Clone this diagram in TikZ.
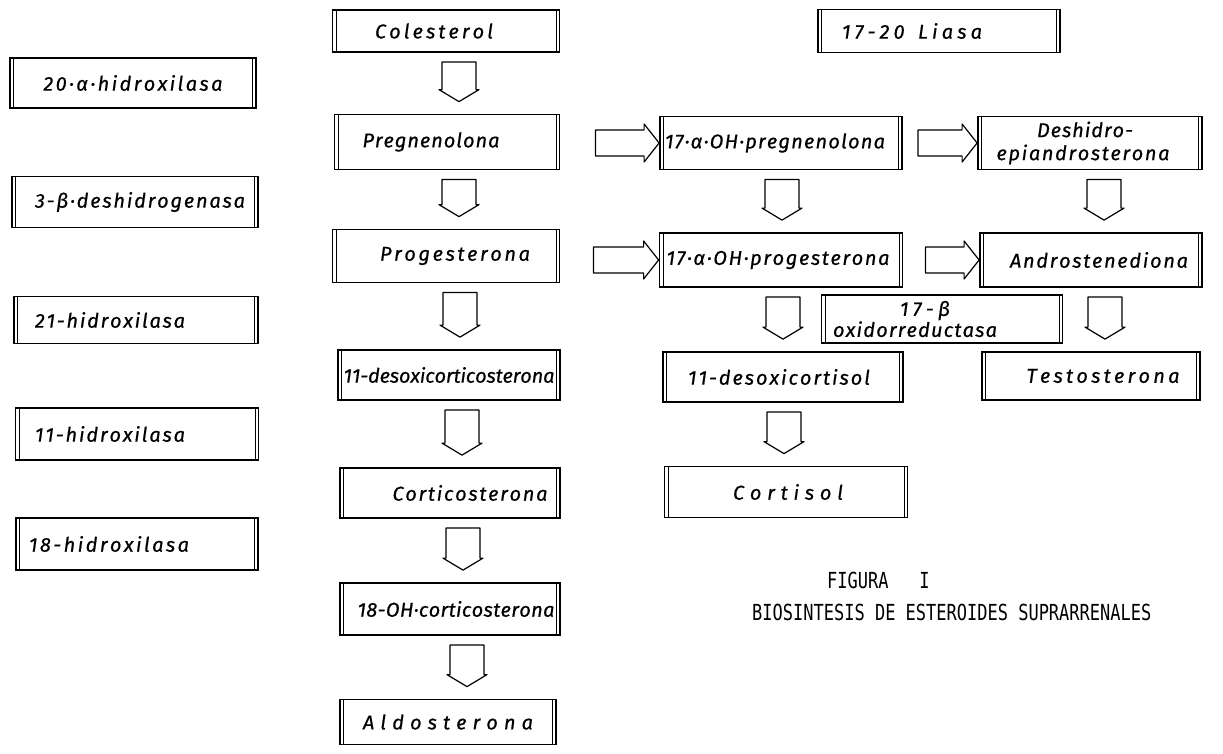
\documentclass[tikz,border=0pt]{standalone}
\usepackage{fontspec}
\usepackage{graphicx}
\usetikzlibrary{calc}
\newfontfamily\bxf[FakeBold=0.6]{Fira Sans}
\newfontfamily\capf{DejaVu Sans Mono}
% letter-spread a word to an exact width
\def\spreadaux#1{\ifx#1\relax\else\hskip 0pt plus 1fil minus 1fil\relax#1\expandafter\spreadaux\fi}
\def\spreadfirst#1{#1\spreadaux}
\newcommand\spreadtxt[2]{\hbox to #1pt{\spreadfirst#2\relax}}
% text centred at offset #1 from box centre, spread to width #2
\newcommand\boxtxt[3]{\makebox[0pt]{\hspace*{#1pt}\hspace*{#1pt}\spreadtxt{#2}{#3}}}
% open block arrow downwards
\newcommand\vblk[3]{%
  \draw[blk] let \p1=($(#1.south)+(#3,0)$), \p2=(#2.north) in
    (\x1-17pt,\y1-9pt) -- (\x1+17pt,\y1-9pt) -- (\x1+17pt,\y2+24pt) -- (\x1+20pt,\y2+24pt)
    -- (\x1,\y2+12pt) -- (\x1-20pt,\y2+24pt) -- (\x1-17pt,\y2+24pt) -- cycle;}
% open block arrow to the right
\newcommand\hblk[3]{%
  \draw[blk] let \p1=(#1.east), \p2=(#2.west) in
    (\x1+#3pt,\y2+13pt) -- (\x2-15pt,\y2+13pt) -- (\x2-15pt,\y2+19pt) -- (\x2,\y2)
    -- (\x2-15pt,\y2-19pt) -- (\x2-15pt,\y2-13pt) -- (\x1+#3pt,\y2-13pt) -- cycle;}
\begin{document}
\begin{tikzpicture}[x=1pt,y=-1pt,
  box/.style={draw, line width=1.8pt, inner sep=0pt,
    font={\bxf\itshape\fontsize{20}{23}\selectfont},
    path picture={\draw[line width=0.8pt]
      ([xshift=3.5pt]path picture bounding box.south west) -- ([xshift=3.5pt]path picture bounding box.north west)
      ([xshift=-3.5pt]path picture bounding box.south east) -- ([xshift=-3.5pt]path picture bounding box.north east);}},
  blk/.style={draw, line width=1.2pt, line join=round},
  capt/.style={inner sep=0pt, anchor=west, font={\capf\fontsize{17}{20}\selectfont}}]
\fill[white] (0,0) rectangle (1223,753);
\useasboundingbox (0,0) rectangle (1223,753);

% enzymes
\node[box, minimum width=246pt, minimum height=50pt] (e20a) at (133,83) {\boxtxt{0}{179}{20·α·hidroxilasa}};
\node[box, minimum width=246pt, minimum height=51pt] (e3b) at (135,202) {\boxtxt{5}{210}{3-β·deshidrogenasa}};
\node[box, minimum width=244pt, minimum height=47pt] (e21) at (136,320) {\boxtxt{-26}{150}{21-hidroxilasa}};
\node[box, minimum width=243pt, minimum height=52pt] (e11) at (137,434) {\boxtxt{-27}{150}{11-hidroxilasa}};
\node[box, minimum width=242pt, minimum height=52pt] (e18) at (137,544) {\boxtxt{-28}{160}{18-hidroxilasa}};

% central column
\node[box, minimum width=227pt, minimum height=42pt] (col) at (446,31) {\boxtxt{-12}{118}{Colesterol}};
\node[box, minimum width=225pt, minimum height=55pt] (preg) at (447,142) {\boxtxt{-16}{137}{Pregnenolona}};
\node[box, minimum width=227pt, minimum height=53pt] (prog) at (446,256) {\boxtxt{9}{150}{Progesterona}};
\node[box, minimum width=222pt, minimum height=50pt] (dox) at (449,375) {\boxtxt{0}{211}{11-desoxicorticosterona}};
\node[box, minimum width=220pt, minimum height=50pt] (cort) at (450,493) {\boxtxt{20}{155}{Corticosterona}};
\node[box, minimum width=220pt, minimum height=52pt] (oh18) at (450,609) {\boxtxt{6}{197}{18-OH·corticosterona}};
\node[box, minimum width=216pt, minimum height=45pt] (aldo) at (448,722) {\boxtxt{0}{170}{Aldosterona}};

% middle column
\node[box, minimum width=242pt, minimum height=43pt] (liasa) at (939,31) {\boxtxt{-27}{140}{17-20\ Liasa}};
\node[box, minimum width=242pt, minimum height=53pt] (ohpreg) at (781,143) {\boxtxt{-6}{220}{17·α·OH·pregnenolona}};
\node[box, minimum width=243pt, minimum height=54pt] (ohprog) at (781,260) {\boxtxt{-3}{223}{17·α·OH·progesterona}};
\node[box, minimum width=241pt, minimum height=48pt, align=center] (obeta) at (942,319)
  {\boxtxt{-17}{50}{17-β}\\[-2pt]\boxtxt{-27}{164}{oxidorreductasa}};
\node[box, minimum width=240pt, minimum height=50pt] (doxc) at (783,377) {\boxtxt{-4}{182}{11-desoxicortisol}};
\node[box, minimum width=243pt, minimum height=51pt] (cortisol) at (786,492) {\boxtxt{2}{110}{Cortisol}};

% right column
\node[box, minimum width=224pt, minimum height=53pt, align=center] (dhea) at (1090,143)
  {\boxtxt{-5}{96}{Deshidro-}\\\boxtxt{-7}{173}{epiandrosterona}};
\node[box, minimum width=222pt, minimum height=54pt] (andro) at (1091,260) {\boxtxt{8}{178}{Androstenediona}};
\node[box, minimum width=218pt, minimum height=48pt] (testo) at (1091,376) {\boxtxt{12}{153}{Testosterona}};

% arrows
\vblk{col}{preg}{13}
\vblk{preg}{prog}{12}
\vblk{prog}{dox}{14}
\vblk{dox}{cort}{13}
\vblk{cort}{oh18}{13}
\vblk{oh18}{aldo}{17}
\vblk{ohpreg}{ohprog}{1}
\vblk{ohprog}{doxc}{2}
\vblk{doxc}{cortisol}{1}
\vblk{dhea}{andro}{14}
\vblk{andro}{testo}{14}
\hblk{preg}{ohpreg}{35}
\hblk{prog}{ohprog}{33}
\hblk{ohpreg}{dhea}{15}
\hblk{ohprog}{andro}{22}

% caption
\node[capt] (fig) at (827,580) {\scalebox{1}[1.3]{FIGURA\ \ \ I}};
\node[capt] (title) at (752,612) {\scalebox{1}[1.3]{BIOSINTESIS DE ESTEROIDES SUPRARRENALES}};
\end{tikzpicture}
\end{document}
